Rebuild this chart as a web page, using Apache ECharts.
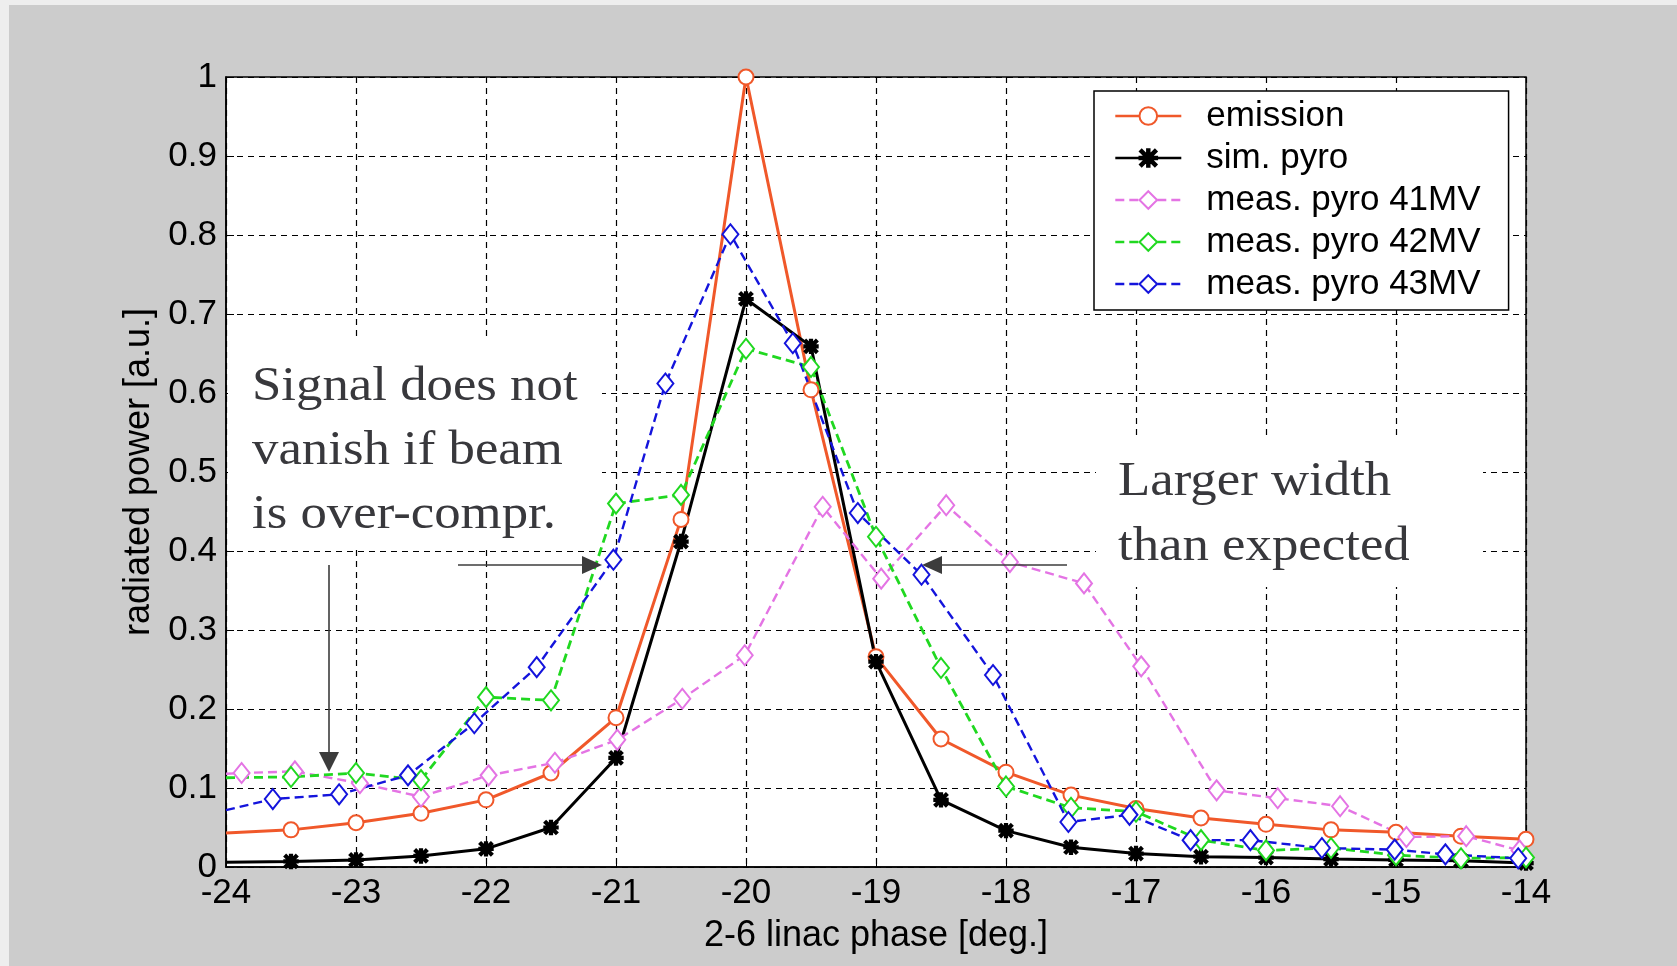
<!DOCTYPE html>
<html>
<head>
<meta charset="utf-8">
<script src="https://cdn.jsdelivr.net/npm/echarts@6/dist/echarts.min.js"></script>
<style>
html, body { margin: 0; padding: 0; background: #cccccc; }
#chart { width: 1677px; height: 966px; }
</style>
</head>
<body>
<div id="chart"></div>
<script>
// Axis ticks
const phaseTicks = [-24, -23, -22, -21, -20, -19, -18, -17, -16, -15, -14];
const powerTicks = [0, 0.1, 0.2, 0.3, 0.4, 0.5, 0.6, 0.7, 0.8, 0.9, 1];

// Phase scan in half-degree steps (emission, simulation, 42 MV scan)
const stepPhase = [-24, -23.5, -23, -22.5, -22, -21.5, -21, -20.5, -20, -19.5, -19,
                   -18.5, -18, -17.5, -17, -16.5, -16, -15.5, -15, -14.5, -14];

const emission = [0.043, 0.047, 0.056, 0.068, 0.085, 0.119, 0.189, 0.44, 1.0, 0.604, 0.266,
                  0.162, 0.120, 0.091, 0.074, 0.062, 0.054, 0.047, 0.044, 0.039, 0.035];

const simPyro = [0.006, 0.007, 0.009, 0.014, 0.023, 0.050, 0.138, 0.412, 0.719, 0.659, 0.260,
                 0.085, 0.046, 0.025, 0.017, 0.013, 0.012, 0.010, 0.009, 0.008, 0.005];

const pyro42 = [0.113, 0.114, 0.119, 0.110, 0.215, 0.211, 0.460, 0.471, 0.656, 0.633, 0.418,
                0.252, 0.102, 0.075, 0.070, 0.034, 0.021, 0.024, 0.015, 0.011, 0.012];

// Measured phases of the 41 MV and 43 MV scans
const pyro41Phase = [-24, -23.88, -23.47, -22.97, -22.5, -21.98, -21.47, -20.99, -20.49, -20.01, -19.41,
                     -18.96, -18.46, -17.97, -17.4, -16.96, -16.38, -15.91, -15.43, -14.92, -14.46, -14.05];
const pyro41 = [0.118, 0.119, 0.121, 0.106, 0.089, 0.116, 0.132, 0.161, 0.213, 0.268, 0.456,
                0.365, 0.458, 0.386, 0.359, 0.254, 0.097, 0.087, 0.077, 0.038, 0.039, 0.021];

const pyro43Phase = [-24, -23.64, -23.13, -22.6, -22.09, -21.61, -21.02, -20.62, -20.12, -19.64, -19.14,
                     -18.65, -18.1, -17.52, -17.05, -16.58, -16.12, -15.57, -15.01, -14.62, -14.06];
const pyro43 = [0.072, 0.086, 0.092, 0.116, 0.182, 0.253, 0.389, 0.612, 0.801, 0.663, 0.448,
                0.370, 0.243, 0.057, 0.066, 0.034, 0.034, 0.024, 0.022, 0.016, 0.011];

const seriesNames = ['emission', 'sim. pyro', 'meas. pyro 41MV', 'meas. pyro 42MV', 'meas. pyro 43MV'];

const SANS = '"Liberation Sans", Arial, Helvetica, sans-serif';
const SERIF = '"Liberation Serif", "Times New Roman", serif';
const NOTE = '#38383c';
const ARROW = '#3c3c3c';

// MATLAB-style '*' marker: plus and cross bars
const ASTERISK = 'path://M8.6 0L11.4 0L11.4 20L8.6 20Z M0 8.6L20 8.6L20 11.4L0 11.4Z ' +
  'M0.5 2.5L2.5 0.5L19.5 17.5L17.5 19.5Z M17.5 0.5L19.5 2.5L2.5 19.5L0.5 17.5Z';

// The first sample lies on the left border and carries no marker
function points(xs, ys) {
  return ys.map((v, i) => i === 0 ? { value: [xs[i], v], symbol: 'none' } : [xs[i], v]);
}

function lineSeries(name, xs, ys, color, width, dash, symbol, symbolSize) {
  return {
    name, type: 'line', data: points(xs, ys),
    symbol, symbolSize, showAllSymbol: true, clip: false,
    lineStyle: { color, width, type: dash },
    itemStyle: { color, borderColor: color, borderWidth: 2.4 },
    emphasis: { disabled: true }, z: 2
  };
}

const chart = echarts.init(document.getElementById('chart'), null, { renderer: 'canvas' });

chart.setOption({
  animation: false,
  backgroundColor: '#cccccc',
  grid: {
    left: 226, top: 77, right: 151, bottom: 99,
    show: true, backgroundColor: '#ffffff', borderColor: '#000', borderWidth: 1.5,
    containLabel: false, outerBoundsMode: 'none'
  },
  legend: {
    orient: 'vertical', left: 1094, top: 91,
    backgroundColor: '#ffffff', borderColor: '#000', borderWidth: 1.5, borderRadius: 0,
    padding: [4, 28, 5, 20],
    itemWidth: 66, itemHeight: 22, itemGap: 0,
    selectedMode: false,
    lineStyle: { width: 2.6 },
    textStyle: { fontFamily: SANS, fontSize: 35, color: '#000', lineHeight: 42, padding: [0, 0, 0, 20] },
    data: seriesNames
  },
  xAxis: {
    type: 'value',
    min: phaseTicks[0], max: phaseTicks[phaseTicks.length - 1],
    interval: phaseTicks[1] - phaseTicks[0],
    axisLine: { show: true, lineStyle: { color: '#000', width: 1.5 } },
    axisTick: { show: true, inside: true, length: 8, lineStyle: { color: '#000' } },
    axisLabel: { fontFamily: SANS, fontSize: 35, color: '#000', margin: 9, showMinLabel: true, showMaxLabel: true },
    splitLine: { show: true, lineStyle: { color: '#000', width: 1.2, type: [6, 5] } },
    name: '2-6 linac phase [deg.]', nameLocation: 'middle', nameGap: 51,
    nameTextStyle: { fontFamily: SANS, fontSize: 36, color: '#000' }
  },
  yAxis: {
    type: 'value',
    min: powerTicks[0], max: powerTicks[powerTicks.length - 1],
    interval: powerTicks[1] - powerTicks[0],
    axisLine: { show: true, lineStyle: { color: '#000', width: 1.5 } },
    axisTick: { show: true, inside: true, length: 8, lineStyle: { color: '#000' } },
    axisLabel: { fontFamily: SANS, fontSize: 35, color: '#000', margin: 9, showMinLabel: true, showMaxLabel: true },
    splitLine: { show: true, lineStyle: { color: '#000', width: 1.2, type: [6, 5] } },
    name: 'radiated power [a.u.]', nameLocation: 'middle', nameGap: 68, nameRotate: 90,
    nameTextStyle: { fontFamily: SANS, fontSize: 36, color: '#000' }
  },
  series: [
    lineSeries(seriesNames[0], stepPhase, emission, '#f0582a', 3, 'solid', 'emptyCircle', 15),
    lineSeries(seriesNames[1], stepPhase, simPyro, '#000000', 3, 'solid', ASTERISK, 13),
    lineSeries(seriesNames[2], pyro41Phase, pyro41, '#e474e4', 2.4, [9, 5], 'emptyDiamond', [16, 20]),
    lineSeries(seriesNames[3], stepPhase, pyro42, '#20d820', 2.8, [9, 5], 'emptyDiamond', [16, 20]),
    lineSeries(seriesNames[4], pyro43Phase, pyro43, '#1414dc', 2.4, [9, 5], 'emptyDiamond', [16, 20])
  ],
  graphic: [
    // light frame along the left and top edges of the figure
    { type: 'rect', silent: true, z: 0, shape: { x: 0, y: 0, width: 9, height: 966 }, style: { fill: '#eeeeee' } },
    { type: 'rect', silent: true, z: 0, shape: { x: 0, y: 0, width: 1677, height: 5 }, style: { fill: '#eeeeee' } },
    // white boxes behind the notes
    { type: 'rect', silent: true, z: 1, shape: { x: 228, y: 340, width: 374, height: 209 }, style: { fill: '#ffffff' } },
    { type: 'rect', silent: true, z: 1, shape: { x: 1096, y: 435, width: 387, height: 152 }, style: { fill: '#ffffff' } },
    // notes
    { type: 'text', silent: true, z: 5, x: 252, y: 387, scaleX: 1.1,
      style: { text: 'Signal does not', font: '48px ' + SERIF, fill: NOTE, verticalAlign: 'middle' } },
    { type: 'text', silent: true, z: 5, x: 252, y: 451, scaleX: 1.1,
      style: { text: 'vanish if beam', font: '48px ' + SERIF, fill: NOTE, verticalAlign: 'middle' } },
    { type: 'text', silent: true, z: 5, x: 252, y: 515, scaleX: 1.1,
      style: { text: 'is over-compr.', font: '48px ' + SERIF, fill: NOTE, verticalAlign: 'middle' } },
    { type: 'text', silent: true, z: 5, x: 1118, y: 482, scaleX: 1.1,
      style: { text: 'Larger width', font: '48px ' + SERIF, fill: NOTE, verticalAlign: 'middle' } },
    { type: 'text', silent: true, z: 5, x: 1118, y: 547, scaleX: 1.1,
      style: { text: 'than expected', font: '48px ' + SERIF, fill: NOTE, verticalAlign: 'middle' } },
    // arrows
    { type: 'line', silent: true, z: 5, shape: { x1: 329, y1: 565, x2: 329, y2: 753 }, style: { stroke: ARROW, lineWidth: 1.6 } },
    { type: 'polygon', silent: true, z: 5, shape: { points: [[319, 752], [339, 752], [329, 772]] }, style: { fill: ARROW } },
    { type: 'line', silent: true, z: 5, shape: { x1: 458, y1: 565, x2: 583, y2: 565 }, style: { stroke: ARROW, lineWidth: 1.6 } },
    { type: 'polygon', silent: true, z: 5, shape: { points: [[582, 556], [582, 574], [602, 565]] }, style: { fill: ARROW } },
    { type: 'line', silent: true, z: 5, shape: { x1: 1067, y1: 565, x2: 941, y2: 565 }, style: { stroke: ARROW, lineWidth: 1.6 } },
    { type: 'polygon', silent: true, z: 5, shape: { points: [[942, 556], [942, 574], [922, 565]] }, style: { fill: ARROW } }
  ]
});
</script>
</body>
</html>
